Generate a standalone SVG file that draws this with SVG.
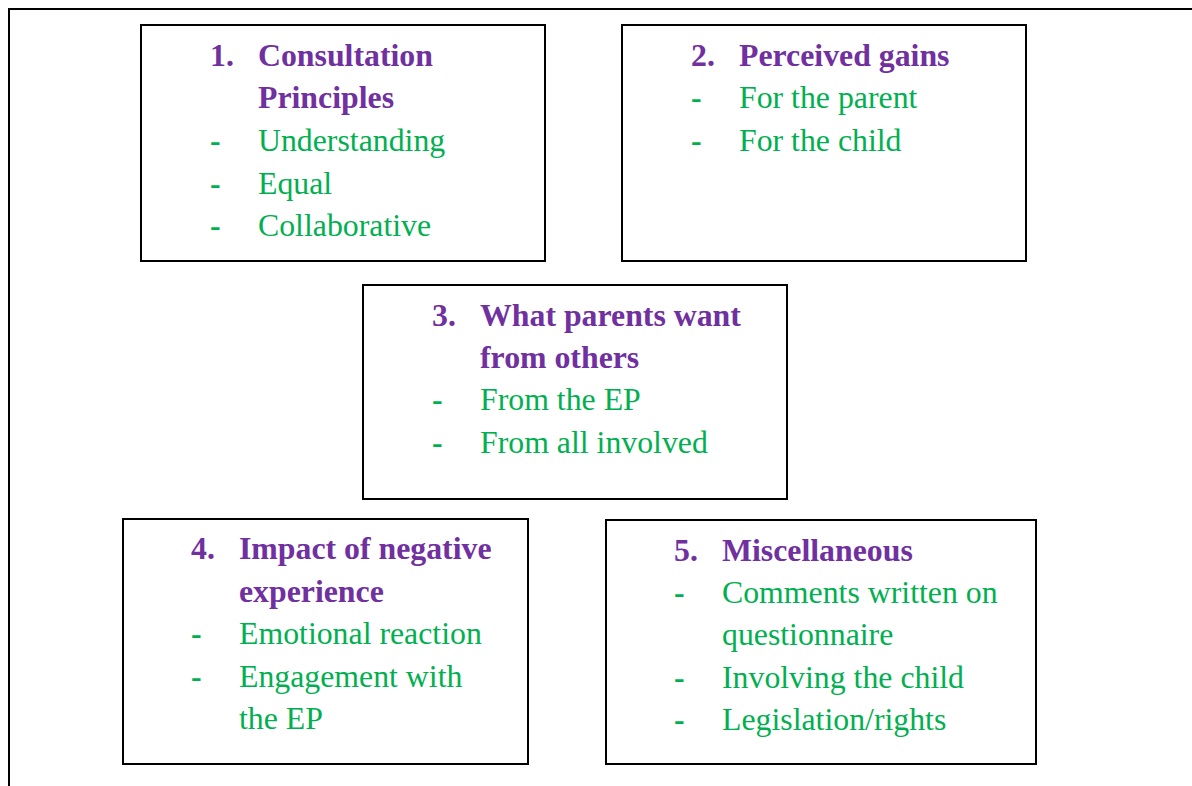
<svg xmlns="http://www.w3.org/2000/svg" width="1192" height="786" viewBox="0 0 1192 786">
<style>
.box{fill:#fff;stroke:#000;stroke-width:2}
.h{font-family:"Liberation Serif",serif;font-weight:bold;font-size:31.8px;fill:#7030A0}
.t{font-family:"Liberation Serif",serif;font-size:31.8px;fill:#00B050}
.d{font-family:"Liberation Serif",serif;font-weight:bold;font-size:31.8px;fill:#00B050}
</style>
<rect width="1192" height="786" fill="#fff"/>
<g id="frame"><path d="M9,786 V9 H1192" fill="none" stroke="#000" stroke-width="2"/></g>
<g id="connectors"></g>
<g id="node1">
<rect class="box" x="141" y="25" width="404" height="236"/>
<text class="h" x="210" y="66">1.</text><text class="h" x="258" y="66">Consultation</text>
<text class="h" x="258" y="108">Principles</text>
<text class="d" x="210" y="151">-</text><text class="t" x="258" y="151">Understanding</text>
<text class="d" x="210" y="194">-</text><text class="t" x="258" y="194">Equal</text>
<text class="d" x="210" y="236">-</text><text class="t" x="258" y="236">Collaborative</text>
</g>
<g id="node2">
<rect class="box" x="622" y="25" width="404" height="236"/>
<text class="h" x="691" y="66">2.</text><text class="h" x="739" y="66">Perceived gains</text>
<text class="d" x="691" y="108">-</text><text class="t" x="739" y="108">For the parent</text>
<text class="d" x="691" y="151">-</text><text class="t" x="739" y="151">For the child</text>
</g>
<g id="node3">
<rect class="box" x="363" y="285" width="424" height="214"/>
<text class="h" x="432" y="326">3.</text><text class="h" x="480" y="326">What parents want</text>
<text class="h" x="480" y="368">from others</text>
<text class="d" x="432" y="410">-</text><text class="t" x="480" y="410">From the EP</text>
<text class="d" x="432" y="453">-</text><text class="t" x="480" y="453">From all involved</text>
</g>
<g id="node4">
<rect class="box" x="123" y="519" width="405" height="245"/>
<text class="h" x="191" y="559">4.</text><text class="h" x="239" y="559">Impact of negative</text>
<text class="h" x="239" y="602">experience</text>
<text class="d" x="191" y="644">-</text><text class="t" x="239" y="644">Emotional reaction</text>
<text class="d" x="191" y="687">-</text><text class="t" x="239" y="687">Engagement with</text>
<text class="t" x="239" y="729">the EP</text>
</g>
<g id="node5">
<rect class="box" x="606" y="520" width="430" height="244"/>
<text class="h" x="674" y="561">5.</text><text class="h" x="722" y="561">Miscellaneous</text>
<text class="d" x="674" y="603">-</text><text class="t" x="722" y="603">Comments written on</text>
<text class="t" x="722" y="645">questionnaire</text>
<text class="d" x="674" y="688">-</text><text class="t" x="722" y="688">Involving the child</text>
<text class="d" x="674" y="730">-</text><text class="t" x="722" y="730">Legislation/rights</text>
</g>
</svg>
